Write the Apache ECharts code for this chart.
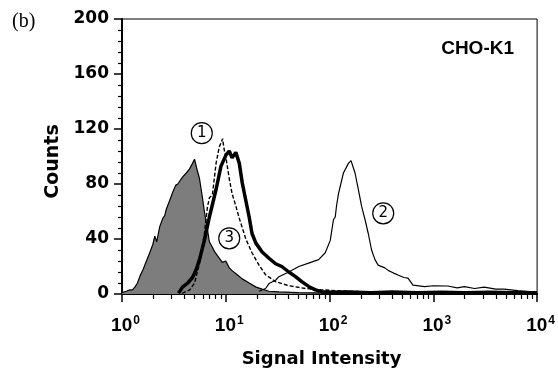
<!DOCTYPE html>
<html>
<head>
<meta charset="utf-8">
<script src="https://cdn.jsdelivr.net/npm/echarts@6/dist/echarts.min.js"></script>
<style>html,body{margin:0;padding:0;background:#fff}#c{width:558px;height:373px}</style>
</head>
<body>
<div id="c"></div>
<script>
// ---- data ----
// control (grey filled histogram)
const ctrlX = [1.0, 1.1, 1.19, 1.26, 1.33, 1.41, 1.49, 1.6, 1.72, 1.85, 1.98, 2.07, 2.16, 2.31, 2.47, 2.58, 2.68, 2.88, 3.08, 3.29, 3.45, 3.59, 3.83, 4.0, 4.16, 4.48, 4.78, 5.0, 5.22, 5.58, 5.96, 6.22, 6.65, 6.95, 7.43, 7.76, 8.48, 9.26, 10.0, 10.8, 11.5, 12.9, 14.4, 16.8, 19.6, 22.4, 26.1, 32.5, 50, 100, 1000, 10000];
const ctrlY = [1, 2, 3, 3, 5, 8, 13, 18, 24, 30, 36, 42, 38, 49, 55, 57, 62, 68, 74, 79, 80, 82, 85, 86, 88, 91, 95, 98, 92, 84, 70, 60, 47, 38, 34, 31, 27, 23, 24, 19, 17, 14, 11, 8, 5, 3.5, 2, 1.5, 1, 0.7, 0.5, 0.5];
// curve 1 (dashed)
const c1X = [3.8, 4.5, 5.0, 5.58, 6.22, 6.65, 6.95, 7.43, 8.06, 8.66, 9.0, 9.32, 9.6, 10.04, 10.8, 11.5, 12.5, 13.5, 15.6, 17.9, 20.9, 24.2, 30.2, 40.5, 58.5, 83.8, 150, 500, 2000, 10000];
const c1Y = [0.5, 3, 8, 22, 44, 63, 70, 72, 95, 107, 110, 113, 106, 99, 84, 73, 64, 55, 40, 30, 21, 14, 9, 6, 4, 3, 2, 1, 0.8, 0.5];
// curve 3 (thick solid)
const c3X = [3.5, 3.83, 4.3, 4.78, 5.2, 5.58, 6.22, 6.95, 8.06, 8.99, 10.04, 10.8, 11.5, 12.5, 13.5, 14.4, 15.6, 16.8, 17.9, 19.5, 22.4, 26.1, 30.2, 34.7, 40.5, 47, 54, 62.9, 72.9, 83.8, 100, 150, 250, 400, 700, 1200, 2000, 3500, 6000, 10000];
const c3Y = [0.5, 5, 8, 12, 18, 25, 39, 56, 76, 93, 101, 104, 99, 103, 95, 81, 68, 56, 44, 37, 30.5, 26, 22, 20, 16, 12.6, 9, 5.5, 3, 1.7, 1.2, 1.5, 1, 1.5, 1, 1.3, 1, 1.2, 1, 1];
// curve 2 (thin solid)
const c2X = [20.9, 24.2, 26.1, 30.2, 32.5, 40.5, 50.5, 62.9, 78.5, 90.9, 101.6, 109, 113.5, 116.7, 122, 136, 152, 161, 176, 190, 204, 220, 236, 254, 274, 294, 341, 370, 395, 420, 457, 520, 570, 637, 824, 1000, 1377, 1700, 1990, 2500, 3090, 4000, 4800, 6500, 8570, 10000];
const c2Y = [2, 4, 7.6, 10, 12.6, 16, 20, 22.5, 25, 30, 39, 54, 56, 64, 73, 88, 95, 97, 88, 75.6, 63.5, 54, 44, 32, 25, 21, 19, 17, 16, 15, 13.8, 12, 11.6, 6.5, 5.3, 6, 5.8, 4.5, 5.3, 4, 5, 3.5, 3.6, 2.5, 1.7, 1.5];
// axes
const yTicks = [0, 40, 80, 120, 160, 200];
const xTickExponents = [0, 1, 2, 3, 4];
const xName = 'Signal Intensity';
const yName = 'Counts';
const panelLabel = '(b)';
const cellLabel = 'CHO-K1';

const zip = (xs, ys) => xs.map((x, i) => [x, ys[i]]);

const chart = echarts.init(document.getElementById('c'), null, {renderer: 'canvas'});
const bold = {fontFamily: 'DejaVu Sans', fontWeight: 'bold', color: '#000'};
const circleMark = (label, coord) => ({
  symbol: 'circle', symbolSize: 21, silent: true, animation: false,
  itemStyle: {color: '#fff', borderColor: '#000', borderWidth: 1.2},
  label: {show: true, position: 'inside', formatter: label, color: '#000', fontSize: 15, fontFamily: 'DejaVu Sans'},
  data: [{coord: coord}]
});

chart.setOption({
  animation: false,
  backgroundColor: '#fff',
  title: [
    {text: panelLabel, left: 12, top: 12, padding: 0, textStyle: {fontFamily: 'Liberation Serif', fontWeight: 'normal', fontSize: 20, color: '#000'}},
    {text: cellLabel, right: 44, top: 39, padding: 0, textStyle: {fontFamily: 'Liberation Sans', fontWeight: 'bold', fontSize: 19, color: '#000'}}
  ],
  grid: {left: 122, right: 18, top: 19, bottom: 79, show: true, borderColor: '#000', borderWidth: 1, backgroundColor: 'transparent'},
  xAxis: {
    type: 'log', logBase: 10, min: 1, max: 10000,
    name: xName, nameLocation: 'middle', nameGap: 56,
    nameTextStyle: Object.assign({fontSize: 18, padding: [0, 16, 0, 0]}, bold),
    axisLine: {lineStyle: {color: '#000', width: 2}},
    axisTick: {length: 8, lineStyle: {color: '#000', width: 1.5}},
    minorTick: {show: true, splitNumber: 9, length: 5, lineStyle: {color: '#000', width: 1.2}},
    splitLine: {show: false},
    axisLabel: {
      margin: 21,
      formatter: function (v) {
        const n = xTickExponents[Math.round(Math.log10(v))];
        return '{p|}{b|10}{s|' + n + '}';
      },
      rich: {
        p: {width: 7},
        b: {fontSize: 19, fontWeight: 'bold', fontFamily: 'Liberation Sans', color: '#000', lineHeight: 22},
        s: {fontSize: 12, fontWeight: 'bold', fontFamily: 'Liberation Sans', color: '#000', verticalAlign: 'top', lineHeight: 12, padding: [0, 0, 0, 1]}
      }
    }
  },
  yAxis: {
    type: 'value', min: yTicks[0], max: yTicks[yTicks.length - 1], interval: yTicks[1] - yTicks[0],
    name: yName, nameLocation: 'middle', nameGap: 58,
    nameTextStyle: Object.assign({fontSize: 19, padding: [0, 10, 0, 0]}, bold),
    axisLine: {lineStyle: {color: '#000', width: 2}},
    axisTick: {length: 8, lineStyle: {color: '#000', width: 1.5}},
    minorTick: {show: true, splitNumber: 5, length: 4, lineStyle: {color: '#000', width: 1.2}},
    splitLine: {show: false},
    axisLabel: Object.assign({fontSize: 17, margin: 13}, bold)
  },
  series: [
    {
      type: 'line', data: zip(ctrlX, ctrlY), symbol: 'none', smooth: false,
      lineStyle: {color: '#000', width: 1.2},
      areaStyle: {color: '#7d7d7d', opacity: 1},
      z: 1
    },
    {
      type: 'line', data: zip(c1X, c1Y), symbol: 'none', smooth: false,
      lineStyle: {color: '#000', width: 1.4, type: [4, 2]},
      markPoint: circleMark('1', [5.87, 117]),
      z: 3
    },
    {
      type: 'line', data: zip(c3X, c3Y), symbol: 'none', smooth: false,
      lineStyle: {color: '#000', width: 3.5},
      markPoint: circleMark('3', [10.8, 40.5]),
      z: 4
    },
    {
      type: 'line', data: zip(c2X, c2Y), symbol: 'none', smooth: false,
      lineStyle: {color: '#000', width: 1.2},
      markPoint: circleMark('2', [329, 58.7]),
      z: 5
    }
  ]
});
</script>
</body>
</html>
